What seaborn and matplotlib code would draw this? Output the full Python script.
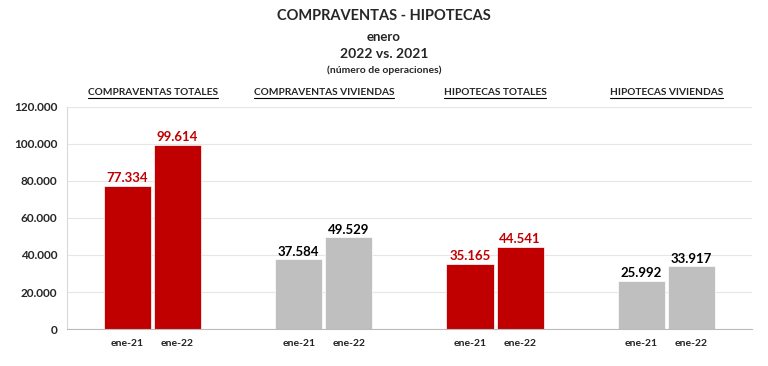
#~~~~~~~~~~~~~~~~~~~~~~~~~~~~~~~~~~~~~~~~~~~~~~~~~~~~~~~~~~~~~~~~~~~~~~~~~~~~~~
# plot.py ----
# Purpose of Script: Compraventas / hipotecas enero 2022 vs 2021
#~~~~~~~~~~~~~~~~~~~~~~~~~~~~~~~~~~~~~~~~~~~~~~~~~~~~~~~~~~~~~~~~~~~~~~~~~~~~~~
import numpy as np
import pandas as pd
import seaborn as sns
import matplotlib.pyplot as plt
from matplotlib.lines import Line2D

# Data
groups = ["COMPRAVENTAS TOTALES", "COMPRAVENTAS VIVIENDAS",
          "HIPOTECAS TOTALES", "HIPOTECAS VIVIENDAS"]
periods = ["ene-21", "ene-22"]
vals_21 = [77334, 37584, 35165, 25992]
vals_22 = [99614, 49529, 44541, 33917]
y_ticks = [0, 20000, 40000, 60000, 80000, 100000, 120000]

df = pd.DataFrame({
    "grupo": groups * 2,
    "periodo": [periods[0]] * 4 + [periods[1]] * 4,
    "valor": vals_21 + vals_22,
})

RED = "#C00000"
GREY = "#BFBFBF"
group_col = [RED, GREY, RED, GREY]
label_col = [RED, "black", RED, "black"]

def fmt(v):
    return f"{v:,}".replace(",", ".")

#~~~~~~~~~~~~~~~~~~~~~~~~~~
# Plot
#~~~~~~~~~~~~~~~~~~~~~~~~~~
sns.set_style("white")
plt.rcParams["font.family"] = ["Lato", "DejaVu Sans"]

fig = plt.figure(figsize=(7.68, 3.66), dpi=100)
ax = fig.add_axes([0.0872, 0.101, 0.8918, 0.607])

sns.barplot(data=df, x="grupo", y="valor", hue="periodo", order=groups,
            hue_order=periods, width=0.585, gap=0.06, ax=ax, legend=False,
            saturation=1)

# recolour bars by group + value labels
for j, cont in enumerate(ax.containers):
    for i, bar in enumerate(cont):
        bar.set_facecolor(group_col[i])
        bar.set_edgecolor("white")
        bar.set_linewidth(0.5)
        h = bar.get_height()
        cx = bar.get_x() + bar.get_width() / 2
        ax.text(cx, h + 800, fmt(int(h)), ha="center", va="bottom",
                fontsize=9.5, fontweight="bold", color=label_col[i])
        ax.text(cx, -5500, periods[j], ha="center", va="top",
                fontsize=7.5, fontweight="bold", color="#222222")

ax.set_ylim(0, 120000)
ax.set_xlim(-0.5, 3.5)
ax.set_yticks(y_ticks)
ax.set_yticklabels([fmt(t) for t in y_ticks], fontsize=8.5, fontweight="bold")
ax.set_xticks([0.5, 1.5, 2.5])
ax.set_xticklabels([])
ax.tick_params(axis="x", length=4, color="#BBBBBB", direction="out")
ax.tick_params(axis="y", length=3, color="#BBBBBB", pad=4)
ax.set_xlabel("")
ax.set_ylabel("")
ax.yaxis.grid(True, color="#E6E6E6", linewidth=0.8)
ax.set_axisbelow(True)
for s in ["top", "right"]:
    ax.spines[s].set_visible(False)
ax.spines["left"].set_color("#D9D9D9")
ax.spines["bottom"].set_color("#BBBBBB")

# Titles
fig.text(0.5, 0.955, "COMPRAVENTAS - HIPOTECAS", ha="center", va="center",
         fontsize=10.5, fontweight="bold")
fig.text(0.5, 0.900, "enero", ha="center", va="center",
         fontsize=9.5, fontweight="bold")
fig.text(0.5, 0.853, "2022 vs. 2021", ha="center", va="center",
         fontsize=10, fontweight="bold")
fig.text(0.5, 0.808, "(número de operaciones)", ha="center", va="center",
         fontsize=7.5, fontweight="bold")

# group headers (underlined)
renderer = fig.canvas.get_renderer()
for i, g in enumerate(groups):
    t = ax.text(i, 1.045, g, transform=ax.get_xaxis_transform(), ha="center",
                va="bottom", fontsize=7.3, fontweight="bold")
    bb = t.get_window_extent(renderer).transformed(fig.transFigure.inverted())
    fig.add_artist(Line2D([bb.x0, bb.x1], [bb.y0 - 0.004, bb.y0 - 0.004],
                          transform=fig.transFigure, color="black", lw=0.8))

plt.savefig("out.png", dpi=100)
